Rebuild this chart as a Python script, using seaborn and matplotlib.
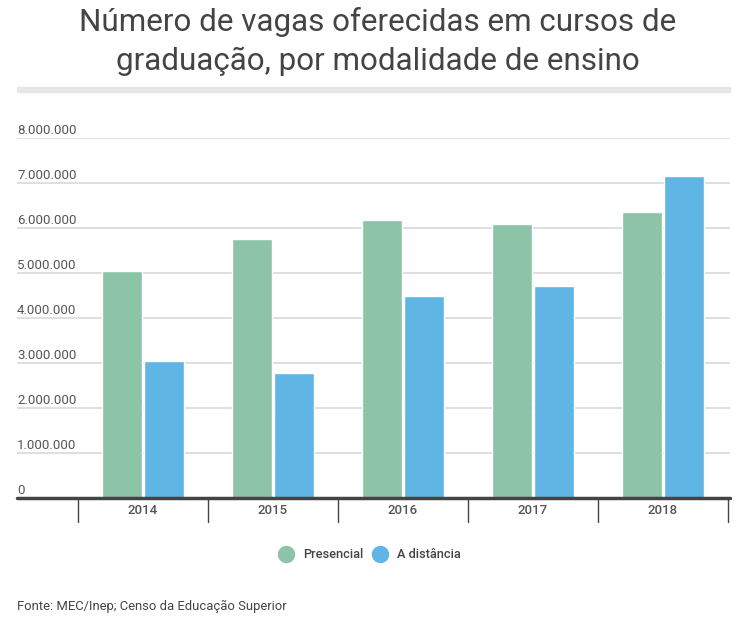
import numpy as np
import pandas as pd
import matplotlib
matplotlib.use('Agg')
import matplotlib.pyplot as plt
from matplotlib.lines import Line2D
import seaborn as sns

anos = ['2014', '2015', '2016', '2017', '2018']
presencial = [5050000, 5760000, 6180000, 6090000, 6360000]
distancia = [3050000, 2790000, 4500000, 4720000, 7170000]
modalidades = ['Presencial', 'A distância']
cores = ['#8dc3a7', '#5fb6e5']
y_ticks = [0, 1000000, 2000000, 3000000, 4000000, 5000000, 6000000, 7000000, 8000000]

df = pd.DataFrame({'ano': anos * 2,
                   'vagas': presencial + distancia,
                   'modalidade': [modalidades[0]] * 5 + [modalidades[1]] * 5})

sns.set_style('white')
plt.rcParams['font.family'] = ['Roboto', 'DejaVu Sans']

W, H = 755, 628
fig = plt.figure(figsize=(W / 100, H / 100), dpi=100)
ax = fig.add_axes([17 / W, 1 - 498.3 / H, (730 - 17) / W, 360 / H])

sns.barplot(data=df, x='ano', y='vagas', hue='modalidade', palette=cores,
            width=0.64, gap=0.03, saturation=1, legend=False, ax=ax)

ax.set_xlim((17 - 143) / 130, (730 - 143) / 130)
ax.set_ylim(0, 8000000)
for s in ax.spines.values():
    s.set_visible(False)
ax.set_xlabel('')
ax.set_ylabel('')
ax.set_yticks([])
ax.set_xticks([])

# grid + labels
for t in y_ticks[1:]:
    ax.axhline(t, color='#dcdcdc', lw=1.3, zorder=0)
for t in y_ticks:
    lab = f'{t:,}'.replace(',', '.')
    ax.text(0, t + 100000, lab, transform=ax.get_yaxis_transform(), ha='left',
            va='baseline', fontsize=9.5, color='#555555')

# baseline and separators
ax.axhline(0, color='#444444', lw=2.5, zorder=5, clip_on=False)
for i in range(len(anos) + 1):
    ax.plot([i - 0.5, i - 0.5], [0, -24 / 45 * 1000000], color='#444444', lw=1,
            clip_on=False)
for i, a in enumerate(anos):
    ax.text(i, -12.5 / 45 * 1000000, a, ha='center', va='center', fontsize=9.5,
            color='#555555', fontweight='medium')

# title
fig.text(0.5, 1 - 22 / H, 'Número de vagas oferecidas em cursos de', ha='center',
         va='center', fontsize=22.6, color='#444444')
fig.text(0.5, 1 - 61 / H, 'graduação, por modalidade de ensino', ha='center',
         va='center', fontsize=22.6, color='#444444')
fig.patches.append(plt.Rectangle((17 / W, 1 - 92 / H), (730 - 17) / W, 5 / H,
                                 transform=fig.transFigure, color='#e6e6e6'))

handles = [Line2D([], [], marker='o', ls='', markersize=11.5, color=c) for c in cores]
fig.legend(handles, modalidades, loc='center', bbox_to_anchor=(367 / W, 1 - 555 / H),
           ncol=2, frameon=False, handletextpad=0.3, columnspacing=0.3,
           labelcolor='#444444', prop={'weight': 'medium', 'size': 9.2})

fig.text(17 / W, 1 - 606 / H, 'Fonte: MEC/Inep; Censo da Educação Superior',
         ha='left', va='center', fontsize=9.4, color='#444444')

fig.savefig('out.png', dpi=100)
